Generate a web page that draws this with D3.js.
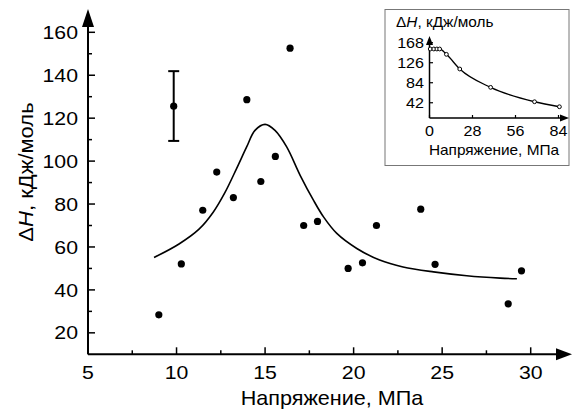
<!DOCTYPE html>
<html><head><meta charset="utf-8">
<script src="https://cdn.jsdelivr.net/npm/d3@7"></script>
<style>body{margin:0;background:#fff}svg{display:block}text{font-family:"Liberation Sans",Arial,sans-serif;fill:#000}</style>
</head><body>
<script>
// Main scatter data
const pointX = [9.0, 10.27, 11.48, 12.27, 13.21, 13.97, 14.76, 15.58, 16.41, 17.18, 17.96, 19.69, 20.5, 21.29, 23.79, 24.6, 28.73, 29.48];
const pointY = [28.4, 52.1, 77.1, 94.9, 83.0, 128.6, 90.5, 102.2, 152.6, 70.0, 71.9, 50.0, 52.6, 70.0, 77.6, 51.9, 33.5, 48.9];
// Point with error bar
const errX = [9.84];
const errY = [125.6];
const errLo = [109.4];
const errHi = [141.9];
// Fitted curve
const curveX = [8.73, 10.14, 11.27, 12.07, 12.73, 13.39, 13.96, 14.43, 15.0, 15.56, 16.22, 16.98, 17.73, 18.3, 19.05, 20.18, 21.47, 22.79, 24.51, 26.39, 28.28, 29.22];
const curveY = [55.1, 61.4, 68.3, 76.2, 85.3, 96.5, 106.6, 114.3, 117.1, 114.3, 106.6, 93.4, 81.8, 74.0, 66.3, 59.3, 53.9, 50.7, 48.4, 46.6, 45.5, 45.2];
const xTicks = [5, 10, 15, 20, 25, 30];
const yTicks = [20, 40, 60, 80, 100, 120, 140, 160];
// Inset data
const insetX = [0.5, 2.8, 4.8, 6.6, 11.0, 19.7, 39.8, 68.4, 84.6];
const insetY = [154.8, 154.8, 154.8, 154.8, 143.6, 112.8, 74.3, 44.1, 33.6];
const insetXTicks = [0, 28, 56, 84];
const insetYTicks = [42, 84, 126, 168];

const W = 572, H = 410;
const svg = d3.select("body").append("svg").attr("width", W).attr("height", H);

function label(parent, tx, ty, size, anchor, sx, rot) {
  const gg = parent.append("g").attr("transform", `translate(${tx},${ty})` + (rot ? ` rotate(${rot})` : "") + ` scale(${sx},1)`);
  return gg.append("text").attr("dy", "0.35em").attr("text-anchor", anchor).attr("font-size", size);
}

const x = d3.scaleLinear().domain([5, 30]).range([88, 530.7]);
const y = d3.scaleLinear().domain([10, 160]).range([354.3, 32.3]);

const g = svg.append("g");
g.append("line").attr("x1", 88).attr("x2", 560).attr("y1", y(10)).attr("y2", y(10)).attr("stroke", "#000").attr("stroke-width", 2);
g.append("line").attr("x1", 88).attr("x2", 88).attr("y1", y(10)).attr("y2", 24).attr("stroke", "#000").attr("stroke-width", 2);
g.append("path").attr("d", `M88,9 L82,27 L94,27 Z`).attr("fill", "#000");
g.append("path").attr("d", `M572,${y(10)} L556,${y(10)-6} L556,${y(10)+6} Z`).attr("fill", "#000");

const xMinor = d3.range(7.5, 30, 5);
g.selectAll(".xt").data(xTicks).join("line").attr("x1", d => x(d)).attr("x2", d => x(d)).attr("y1", y(10)).attr("y2", y(10) - 7).attr("stroke", "#000").attr("stroke-width", 1.5);
g.selectAll(".xm").data(xMinor).join("line").attr("x1", d => x(d)).attr("x2", d => x(d)).attr("y1", y(10)).attr("y2", y(10) - 4).attr("stroke", "#000").attr("stroke-width", 1.5);
xTicks.forEach(d => label(g, x(d), 372, 19, "middle", 1.12).text(d));

const yMinor = d3.range(30, 160, 20);
g.selectAll(".yt").data(yTicks).join("line").attr("x1", 88).attr("x2", 95).attr("y1", d => y(d)).attr("y2", d => y(d)).attr("stroke", "#000").attr("stroke-width", 1.5);
g.selectAll(".ym").data(yMinor).join("line").attr("x1", 88).attr("x2", 92).attr("y1", d => y(d)).attr("y2", d => y(d)).attr("stroke", "#000").attr("stroke-width", 1.5);
yTicks.forEach(d => label(g, 78, y(d), 19, "end", 1.12).text(d));

label(g, 332, 398, 20, "middle", 1.08).text("Напряжение, МПа");
const yt = label(g, 26, 172, 20, "middle", 1.1, -90);
yt.append("tspan").text("Δ");
yt.append("tspan").attr("font-style", "italic").text("H");
yt.append("tspan").text(", кДж/моль");

const line = d3.line().x(d => x(d[0])).y(d => y(d[1])).curve(d3.curveCatmullRom);
g.append("path").datum(d3.zip(curveX, curveY)).attr("d", line).attr("fill", "none").attr("stroke", "#000").attr("stroke-width", 1.6);

g.selectAll(".pt").data(d3.zip(pointX, pointY)).join("circle").attr("cx", d => x(d[0])).attr("cy", d => y(d[1])).attr("r", 3.6).attr("fill", "#000");

errX.forEach((ex, i) => {
  g.append("line").attr("x1", x(ex)).attr("x2", x(ex)).attr("y1", y(errLo[i])).attr("y2", y(errHi[i])).attr("stroke", "#000").attr("stroke-width", 2);
  [errLo[i], errHi[i]].forEach(v => g.append("line").attr("x1", x(ex) - 5.5).attr("x2", x(ex) + 5.5).attr("y1", y(v)).attr("y2", y(v)).attr("stroke", "#000").attr("stroke-width", 2));
  g.append("circle").attr("cx", x(ex)).attr("cy", y(errY[i])).attr("r", 3.6).attr("fill", "#000");
});

// Inset
const ig = svg.append("g");
ig.append("rect").attr("x", 385).attr("y", 9.5).attr("width", 184).attr("height", 156).attr("fill", "#fff").attr("stroke", "#777").attr("stroke-width", 1);
const ix = d3.scaleLinear().domain([0, 84]).range([429.5, 558.5]);
const iy = d3.scaleLinear().domain([10, 168]).range([118, 42.7]);
ig.append("line").attr("x1", 429.5).attr("x2", 562).attr("y1", 118).attr("y2", 118).attr("stroke", "#000").attr("stroke-width", 1.5);
ig.append("line").attr("x1", 429.5).attr("x2", 429.5).attr("y1", 118).attr("y2", 42).attr("stroke", "#000").attr("stroke-width", 1.5);
ig.append("path").attr("d", `M429.5,36 L426,45 L433,45 Z`).attr("fill", "#000");
ig.append("path").attr("d", `M569,118 L560,114.5 L560,121.5 Z`).attr("fill", "#000");
ig.selectAll(".ixt").data(insetXTicks).join("line").attr("x1", d => ix(d)).attr("x2", d => ix(d)).attr("y1", 118).attr("y2", 115).attr("stroke", "#000").attr("stroke-width", 1.2);
ig.selectAll(".iyt").data(insetYTicks).join("line").attr("x1", 429.5).attr("x2", 433).attr("y1", d => iy(d)).attr("y2", d => iy(d)).attr("stroke", "#000").attr("stroke-width", 1.2);
insetXTicks.forEach(d => label(ig, ix(d), 131, 14, "middle", 1.15).text(d));
insetYTicks.forEach(d => label(ig, 424, iy(d), 14, "end", 1.15).text(d));
const itg = ig.append("g").attr("transform", "translate(396,26.5) scale(1.1,1)");
const it = itg.append("text").attr("font-size", 14);
it.append("tspan").text("Δ");
it.append("tspan").attr("font-style", "italic").text("H");
it.append("tspan").text(", кДж/моль");
label(ig, 494, 150, 14, "middle", 1.1).text("Напряжение, МПа");
const iline = d3.line().x(d => ix(d[0])).y(d => iy(d[1])).curve(d3.curveMonotoneX);
ig.append("path").datum(d3.zip(insetX, insetY)).attr("d", iline).attr("fill", "none").attr("stroke", "#000").attr("stroke-width", 1.3);
ig.selectAll(".ip").data(d3.zip(insetX, insetY)).join("circle").attr("cx", d => ix(d[0])).attr("cy", d => iy(d[1])).attr("r", 1.9).attr("fill", "#fff").attr("stroke", "#000").attr("stroke-width", 1);
</script>
</body></html>
